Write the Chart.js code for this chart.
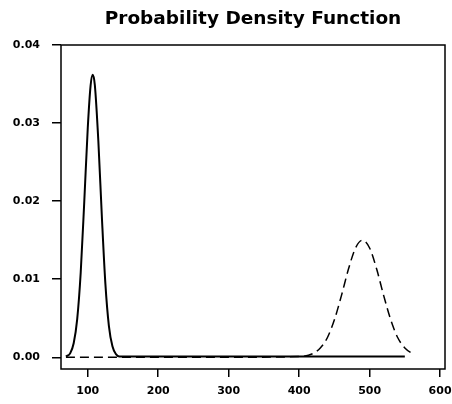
<!DOCTYPE html>
<html>
<head>
<meta charset="utf-8">
<script src="https://cdn.jsdelivr.net/npm/chart.js@4/dist/chart.umd.min.js"></script>
<style>
  html, body { margin: 0; padding: 0; background: #fff; }
  #wrap { width: 452px; height: 404px; }
</style>
</head>
<body>
<div id="wrap"><canvas id="myChart" width="452" height="404"></canvas></div>
<script>
// values
const solidX = [69, 75, 80, 85, 90, 95, 100, 104, 107, 110, 115, 120, 125, 130, 135, 140, 145, 200, 300, 400, 500, 550];
const solidY = [0.0001, 0.0005, 0.0018, 0.0049, 0.0109, 0.0199, 0.0294, 0.0348, 0.0362, 0.0349, 0.0277, 0.0180, 0.0094, 0.0040, 0.0014, 0.0004, 0.0001, 0.0001, 0.0001, 0.0001, 0.0001, 0.0001];

const dashX = [69, 200, 300, 400, 420, 430, 440, 450, 460, 470, 480, 490, 500, 510, 520, 530, 540, 550, 562];
const dashY = [0, 0, 0, 0.0001, 0.0005, 0.0012, 0.0025, 0.0048, 0.0079, 0.0113, 0.0140, 0.0150, 0.0140, 0.0113, 0.0079, 0.0048, 0.0025, 0.0012, 0.0004];

const xTicks = [100, 200, 300, 400, 500, 600];
const yTicks = [0.00, 0.01, 0.02, 0.03, 0.04];

const toPoints = (xs, ys) => xs.map((x, i) => ({x: x, y: ys[i]}));

const frame = {
  id: 'frame',
  afterDatasetsDraw(chart) {
    const {ctx, chartArea} = chart;
    ctx.save();
    ctx.strokeStyle = '#000';
    ctx.lineWidth = 1.5;
    ctx.strokeRect(chartArea.left, chartArea.top, chartArea.right - chartArea.left, chartArea.bottom - chartArea.top);
    ctx.restore();
  }
};

const tickFont = {family: 'DejaVu Sans', size: 11, weight: 'bold'};

const config = {
  type: 'line',
  data: {
    datasets: [{
      data: toPoints(dashX, dashY),
      borderColor: '#000',
      borderWidth: 1.5,
      borderDash: [9, 5],
      pointRadius: 0,
      cubicInterpolationMode: 'monotone',
      fill: false
    }, {
      data: toPoints(solidX, solidY),
      borderColor: '#000',
      borderWidth: 2,
      pointRadius: 0,
      cubicInterpolationMode: 'monotone',
      fill: false
    }]
  },
  options: {
    responsive: false,
    animation: false,
    events: [],
    layout: {padding: {left: 0, right: 7, top: 0, bottom: 0}},
    plugins: {
      legend: {display: false},
      tooltip: {enabled: false},
      title: {
        display: true,
        text: 'Probability Density Function',
        color: '#000',
        fullSize: false,
        font: {family: 'DejaVu Sans', size: 18.5, weight: 'bold'},
        padding: {top: 8, bottom: 14.8}
      }
    },
    scales: {
      x: {
        type: 'linear',
        min: 62,
        max: 607,
        border: {display: false},
        grid: {display: true, drawOnChartArea: false, color: '#000', lineWidth: 1.5, tickLength: 8},
        afterBuildTicks: (scale) => { scale.ticks = xTicks.map(v => ({value: v})); },
        afterFit: (scale) => { scale.height = 35; scale.paddingLeft = 0; scale.paddingRight = 0; },
        ticks: {color: '#000', font: tickFont, padding: 8, maxRotation: 0}
      },
      y: {
        type: 'linear',
        min: -0.0015,
        max: 0.04,
        border: {display: false},
        grid: {display: true, drawOnChartArea: false, color: '#000', lineWidth: 1.5, tickLength: 9},
        afterBuildTicks: (scale) => { scale.ticks = yTicks.map(v => ({value: v})); },
        afterFit: (scale) => { scale.width = 61; scale.paddingTop = 0; scale.paddingBottom = 0; },
        ticks: {color: '#000', font: tickFont, padding: 12, callback: (v) => v.toFixed(2)}
      }
    }
  },
  plugins: [frame]
};

const myChart = new Chart(document.getElementById('myChart'), config);
</script>
</body>
</html>
